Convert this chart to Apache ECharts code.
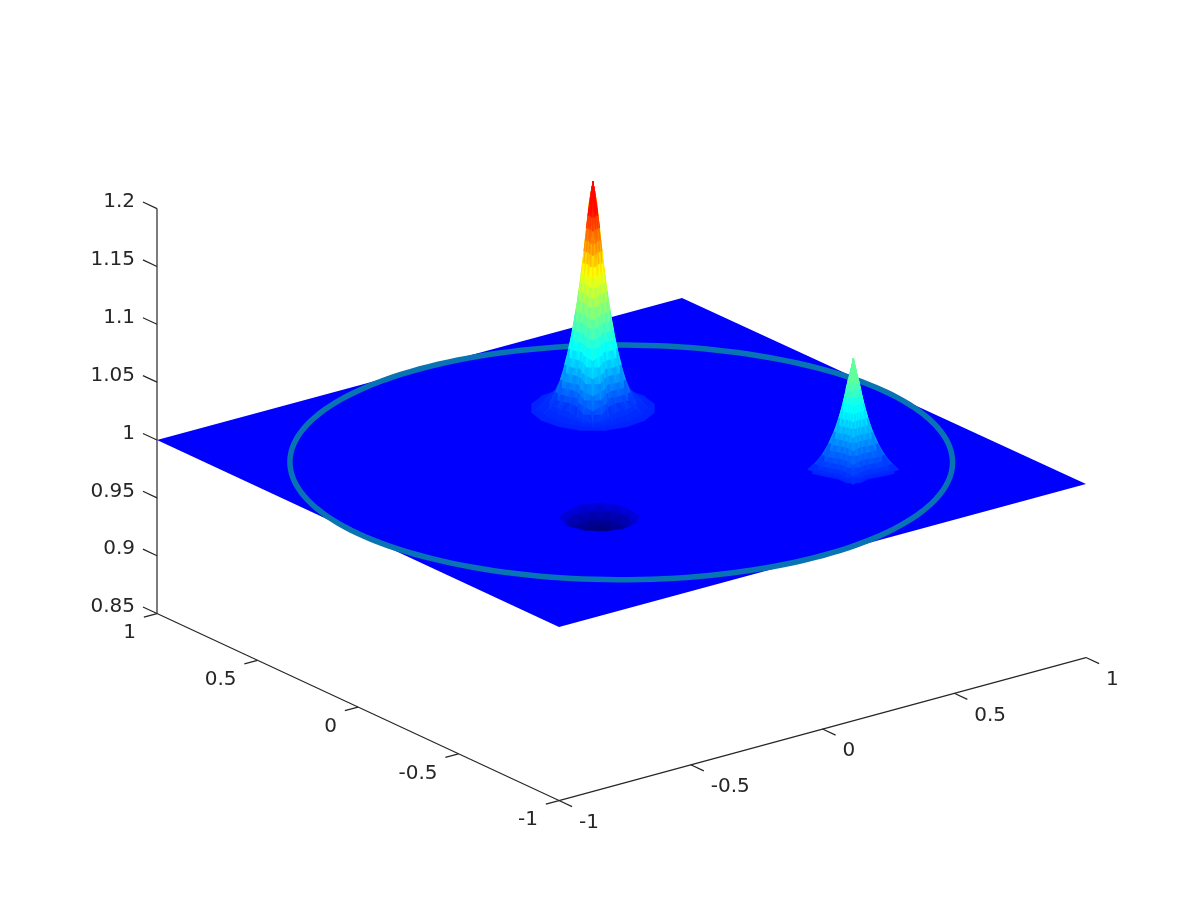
<!DOCTYPE html>
<html><head><meta charset="utf-8">
<style>html,body{margin:0;padding:0;background:#fff}#c{width:1200px;height:900px}</style>
<script src="https://cdn.jsdelivr.net/npm/echarts@6/dist/echarts.min.js"></script>
</head><body><div id="c"></div>
<script>
// ---- data ----
const xTicks=[-1,-0.5,0,0.5,1];
const yTicks=[-1,-0.5,0,0.5,1];
const zTicks=[0.85,0.9,0.95,1,1.05,1.1,1.15,1.2];
const xTickLabels=['-1','-0.5','0','0.5','1'];
const yTickLabels=['-1','-0.5','0','0.5','1'];
const zTickLabels=['0.85','0.9','0.95','1','1.05','1.1','1.15','1.2'];
const surfaceExtent=[-1,1];
const surfaceLevel=1;
const zFloor=0.85;
const ringRadius=1;
const ringLevel=1;
// peak 1
const peak1Center=[0.2,0.4];
const peak1Radii=[0,.003,.006,.009,.012,.016,.02,.024,.027,.031,.035,.039,.043,.047,.052,.057,.062,.067,.073,.079,.085,.091,.098,.105,.112,.12,.13,.14,.165,.19];
const peak1Heights=[1.198,1.194,1.19,1.185,1.18,1.169,1.158,1.147,1.138,1.128,1.119,1.111,1.103,1.095,1.086,1.078,1.07,1.062,1.054,1.047,1.04,1.034,1.027,1.0216,1.016,1.011,1.006,1.004,1.003,1.002];
const peak1Lobe=[1,1,1,1,1,1,1,1,1,1,1,1,1,1,1,1,1,1,1,1,1,1,1,1,1,1,.6,.3,.1,.05];
const peak1Spokes=[1,.9,.78,.68,.62,.72,.95,1.2,1.45,1.2,.95,.72,.62,.68,.78,.9,1,.9,.78,.68,.62,.72,.95,1.2,1.45,1.2,.95,.72,.62,.68,.78,.9];
// peak 2
const peak2Center=[0.5,-0.5];
const peak2Radii=[0,.003,.006,.01,.0135,.0166,.02,.024,.028,.033,.039,.045,.052,.059,.067,.075,.085,.095,.105,.115,.125,.135];
const peak2Heights=[1.0994,1.095,1.091,1.086,1.082,1.078,1.073,1.067,1.061,1.054,1.048,1.042,1.036,1.031,1.026,1.021,1.016,1.012,1.008,1.005,1.003,1.002];
const peak2Lobe=[1,1,1,1,1,1,1,1,1,1,1,1,1,1,1,1,1,1,1,1,1,1];
const peak2Spokes=[1.1,.93,.8,.7,.62,.62,.66,.78,1,.78,.66,.62,.62,.7,.8,.93,1.1,.93,.8,.7,.62,.62,.66,.78,1,.78,.66,.62,.62,.7,.8,.93];
// dip
const dipCenter=[-0.335,-0.332];
const dipRadii=[0,0.02,0.04,0.06,0.08,0.1,0.12];
const dipHeights=[0.98,0.981,0.983,0.985,0.988,0.992,0.997];
const dipLobe=[1,1,1,1,1,1,1];
const dipSpokes=[1.02,.98,1.03,.97,1.0,1.04,.96,1.02,1.0,.98,1.03,.97,1.02,1.05,.96,1.0,1.03,1.0,1.04,1.12,1.08,1.2,1.22,1.3,1.26,1.32,1.18,1.22,1.08,1.1,1.04,.97];
// colour scale of the surface
const colourLevels=[0.983,1.0,1.002,1.05625,1.124,1.177,1.2];
const colourStops=[[0,0,120],[0,0,255],[0,28,255],[0,255,255],[255,255,0],[255,0,0],[225,0,0]];

// ---- projection of the 3-D box onto the page ----
function project(x,y,z){
  const k=(1+x)*(1+y)/4;
  return [621.5+263.5*x-201*y-2*k, 462-71.5*x-93.5*y+k-(z-1)*1157];
}
function colourOf(z){
  if(z<=colourLevels[0])return 'rgb('+colourStops[0].join(',')+')';
  for(let i=1;i<colourLevels.length;i++){
    if(z<=colourLevels[i]){
      const t=(z-colourLevels[i-1])/(colourLevels[i]-colourLevels[i-1]);
      const a=colourStops[i-1],b=colourStops[i];
      return 'rgb('+[0,1,2].map(c=>Math.round(a[c]+(b[c]-a[c])*t)).join(',')+')';
    }
  }
  return 'rgb('+colourStops[colourStops.length-1].join(',')+')';
}
const RIGHT=-37.7*Math.PI/180, STEP=-11.25*Math.PI/180;
function node(center,radii,heights,lobe,spokes,i,j){
  const r=radii[i]*(1+(spokes[j%32]-1)*lobe[i]), a=RIGHT+(j%32)*STEP;
  const x=center[0]+r*Math.cos(a), y=center[1]+r*Math.sin(a);
  return {p:project(x,y,heights[i]),base:project(x,y,surfaceLevel)[1],z:heights[i]};
}
// span: how many rings one facet bridges; byHeight: paint low facets first, so the high ones overlap them
function meshTriangles(center,radii,heights,lobe,spokes,span,byHeight){
  const tris=[];
  const add=(a,b,c)=>{
    const mean=(a.z+b.z+c.z)/3, low=Math.min(a.z,b.z,c.z);
    tris.push({a,b,c,z:mean,shade:byHeight?low+0.35*(mean-low):mean,d:(a.base+b.base+c.base)/3});
  };
  for(let i=0;i<radii.length-span;i++){
    const p=i%2;
    const A=k=>node(center,radii,heights,lobe,spokes,i,2*k+p);
    const B=k=>node(center,radii,heights,lobe,spokes,i+span,2*k+1-p);
    for(let k=0;k<16;k++){
      if(p===0){add(A(k),A(k+1),B(k));add(B(k),B(k+1),A(k+1));}
      else{add(B(k),B(k+1),A(k));add(A(k),A(k+1),B(k+1));}
    }
  }
  tris.sort(byHeight?(s,t)=>s.z-t.z:(s,t)=>s.d-t.d);
  return tris.map(t=>[t.a.p[0],t.a.p[1],t.b.p[0],t.b.p[1],t.c.p[0],t.c.p[1],t.shade]);
}
function polyItem(params,api){
  const pts=[];
  for(let i=0;i<3;i++)pts.push(api.coord([api.value(2*i),api.value(2*i+1)]));
  const col=colourOf(api.value(6));
  return {type:'polygon',shape:{points:pts},style:{fill:col,stroke:col,lineWidth:0.4}};
}
function meshSeries(tris){
  return {type:'custom',coordinateSystem:'cartesian2d',data:tris,renderItem:polyItem,silent:true,animation:false,progressive:0,clip:false,encode:{x:[0,2,4],y:[1,3,5]}};
}
function shapeSeries(points,style){
  return {type:'custom',coordinateSystem:'cartesian2d',data:[0],silent:true,animation:false,clip:false,
    renderItem:(params,api)=>({type:style.fill?'polygon':'polyline',shape:{points:points.map(p=>api.coord(p))},style:style})};
}
function lineSeries(segs,colour,width){
  return {type:'custom',coordinateSystem:'cartesian2d',data:segs,silent:true,animation:false,clip:false,encode:{x:[0,2],y:[1,3]},
    renderItem:(params,api)=>{
      const a=api.coord([api.value(0),api.value(1)]),b=api.coord([api.value(2),api.value(3)]);
      return {type:'line',shape:{x1:a[0],y1:a[1],x2:b[0],y2:b[1]},style:{stroke:colour,lineWidth:width}};
    }};
}
function labelSeries(items,align){
  return {type:'custom',coordinateSystem:'cartesian2d',data:items.map(t=>[t[0],t[1]]),silent:true,animation:false,clip:false,encode:{x:0,y:1},
    renderItem:(params,api)=>{
      const a=api.coord([api.value(0),api.value(1)]);
      return {type:'text',x:a[0],y:a[1],style:{text:items[params.dataIndex][2],fill:'#262626',font:'20px "DejaVu Sans"',align:align,verticalAlign:'middle'}};
    }};
}

// ---- marks ----
const [lo,hi]=surfaceExtent;
const plane=[project(lo,lo,surfaceLevel),project(hi,lo,surfaceLevel),project(hi,hi,surfaceLevel),project(lo,hi,surfaceLevel)];
const ringPts=[];
for(let d=0;d<=360;d+=2){const a=d*Math.PI/180;ringPts.push(project(ringRadius*Math.cos(a),ringRadius*Math.sin(a),ringLevel));}
// near part of the plane in front of the dip hides the dip's near wall
const rimI=dipRadii.length-1, cover=[];
for(let j=0;j<=16;j++){
  const a=RIGHT+j*STEP,r=dipRadii[rimI]*dipSpokes[j];
  cover.push(project(dipCenter[0]+r*Math.cos(a),dipCenter[1]+r*Math.sin(a),surfaceLevel));
}
for(let j=16;j>=0;j-=2){
  const a=RIGHT+j*STEP,r=dipRadii[rimI]*1.8;
  cover.push(project(dipCenter[0]+r*Math.cos(a),dipCenter[1]+r*Math.sin(a),surfaceLevel));
}
const axisSegs=[
  [...project(lo,lo,zFloor),...project(hi,lo,zFloor)],
  [...project(lo,lo,zFloor),...project(lo,hi,zFloor)],
  [...project(lo,hi,zFloor),...project(lo,hi,zTicks[zTicks.length-1])]
];
xTicks.forEach(x=>axisSegs.push([...project(x,lo,zFloor),...project(x,lo-0.065,zFloor)]));
yTicks.forEach(y=>axisSegs.push([...project(lo,y,zFloor),...project(lo-0.05,y,zFloor)]));
zTicks.forEach(z=>axisSegs.push([...project(lo,hi,z),...project(lo,hi+0.07,z)]));
const xLabelItems=xTicks.map((x,i)=>{const p=project(x,lo,zFloor);return [p[0]+20,p[1]+22,xTickLabels[i]];});
const yLabelItems=yTicks.map((y,i)=>{const p=project(lo,y,zFloor);return [p[0]-21,p[1]+19.5,yTickLabels[i]];});
const zLabelItems=zTicks.map((z,i)=>{const p=project(lo,hi,z);return [p[0]-22,p[1]-6.5,zTickLabels[i]];});

const chart=echarts.init(document.getElementById('c'),null,{renderer:'canvas',width:1200,height:900});
chart.setOption({
  animation:false,backgroundColor:'#fff',
  grid:{left:0,right:0,top:0,bottom:0},
  xAxis:{type:'value',min:0,max:1200,show:false},
  yAxis:{type:'value',min:0,max:900,inverse:true,show:false},
  series:[
    lineSeries(axisSegs,'#262626',1.2),
    shapeSeries(plane,{fill:'rgb(0,0,255)'}),
    meshSeries(meshTriangles(dipCenter,dipRadii,dipHeights,dipLobe,dipSpokes,1,false)),
    shapeSeries(cover,{fill:'rgb(0,0,255)'}),
    shapeSeries(ringPts,{stroke:'#0874b4',lineWidth:5.5,fill:null}),
    meshSeries(meshTriangles(peak1Center,peak1Radii,peak1Heights,peak1Lobe,peak1Spokes,5,true)),
    meshSeries(meshTriangles(peak2Center,peak2Radii,peak2Heights,peak2Lobe,peak2Spokes,5,true)),
    labelSeries(xLabelItems,'left'),
    labelSeries(yLabelItems,'right'),
    labelSeries(zLabelItems,'right')
  ]
});
</script></body></html>
